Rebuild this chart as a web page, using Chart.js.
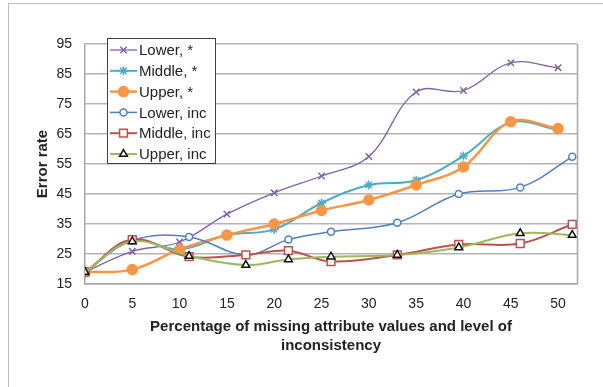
<!DOCTYPE html>
<html>
<head>
<meta charset="utf-8">
<script src="https://cdn.jsdelivr.net/npm/chart.js@4.4.1/dist/chart.umd.min.js"></script>
<style>
  html, body { margin: 0; padding: 0; background: #fff; }
</style>
</head>
<body>
<canvas id="myChart" width="603" height="387"></canvas>
<script>
// data
var xStar = [0, 5, 10, 15, 20, 25, 30, 35, 40, 45, 50];
var lowerStar = [19, 25.9, 29, 38.3, 45.4, 51, 57.5, 79, 79.5, 88.7, 87.1];
var middleStar = [19, 29.5, 26.5, 31.3, 33.2, 42, 48, 49.6, 57.7, 68.8, 66.4];
var upperStar = [19, 19.8, 26.5, 31.3, 35, 39.5, 43, 48, 54, 69.1, 66.8];

var xInc = [0, 5, 11, 17, 21.5, 26, 33, 39.5, 46, 51.5];
var lowerInc = [19, 29.5, 30.7, 24.7, 29.8, 32.4, 35.4, 45, 47.2, 57.4];
var middleInc = [19, 29.8, 24.1, 24.7, 26.1, 22.5, 24.7, 28.2, 28.5, 34.9];
var upperInc = [19, 29.2, 24.3, 21.3, 23.2, 24.1, 24.7, 27.2, 31.9, 31.3];

var seriesNames = ['Lower, *', 'Middle, *', 'Upper, *', 'Lower, inc', 'Middle, inc', 'Upper, inc'];
var yTicks = [15, 25, 35, 45, 55, 65, 75, 85, 95];

var textColor = '#222';

function pts(xs, ys) {
    var out = [];
    for (var i = 0; i < xs.length; i++) out.push({ x: xs[i], y: ys[i] });
    return out;
}

function makeSet(i, xs, ys, style) {
    return {
        label: seriesNames[i],
        data: pts(xs, ys),
        borderColor: style.color,
        borderWidth: style.width,
        pointStyle: style.point,
        pointRadius: style.radius,
        pointBorderColor: style.pointBorder || style.color,
        pointBackgroundColor: style.pointFill || style.color,
        pointBorderWidth: style.pointWidth || 1.5,
        tension: 0.38,
        fill: false,
        order: 5 - i
    };
}

var styles = [
    { color: '#7f63a8', width: 1.3, point: 'crossRot', radius: 4.5 },
    { color: '#4bacc6', width: 2, point: 'star', radius: 4.5 },
    { color: '#f79646', width: 2.5, point: 'circle', radius: 5 },
    { color: '#4f81bd', width: 1.5, point: 'circle', radius: 3.5, pointFill: '#fff' },
    { color: '#c0504d', width: 2, point: 'rect', radius: 5.5, pointFill: '#fff' },
    { color: '#9bbb59', width: 2, point: 'triangle', radius: 4.5, pointFill: '#fff', pointBorder: '#111' }
];

// frame round the whole picture and right edge of the plot area
var framePlugin = {
    id: 'frames',
    beforeDraw: function(chart) {
        var c = chart.ctx;
        c.save();
        c.strokeStyle = '#bdbdbd';
        c.lineWidth = 1;
        c.strokeRect(8.5, 3.5, 800, 600);
        c.restore();
    },
    afterDatasetsDraw: function(chart) {
        var a = chart.chartArea;
        var c = chart.ctx;
        c.save();
        c.strokeStyle = '#a6a6a6';
        c.lineWidth = 1.5;
        c.beginPath();
        c.moveTo(Math.round(a.right) + 0.5, a.top);
        c.lineTo(Math.round(a.right) + 0.5, a.bottom);
        c.stroke();
        c.restore();
    }
};

// legend box in the upper left of the plot, line + marker + text
var legendPlugin = {
    id: 'boxLegend',
    afterDraw: function(chart) {
        var c = chart.ctx;
        var bx = 107.5, by = 38.5, bw = 108, bh = 125;
        c.save();
        c.fillStyle = '#fff';
        c.fillRect(bx, by, bw, bh);
        c.strokeStyle = '#404040';
        c.lineWidth = 1;
        c.strokeRect(bx, by, bw, bh);
        c.font = '15px "Liberation Sans", Arial, sans-serif';
        c.textBaseline = 'middle';
        for (var i = 0; i < seriesNames.length; i++) {
            var s = styles[i];
            var y = 50 + i * 20.8;
            c.strokeStyle = s.color;
            c.lineWidth = s.width;
            c.beginPath();
            c.moveTo(110, y);
            c.lineTo(137, y);
            c.stroke();
            c.strokeStyle = s.pointBorder || s.color;
            c.fillStyle = s.pointFill || s.color;
            c.lineWidth = s.pointWidth || 1.5;
            Chart.helpers.drawPoint(c, { pointStyle: s.point, radius: s.radius, rotation: 0, borderWidth: 1.5 }, 123.5, y);
            c.fillStyle = textColor;
            c.fillText(seriesNames[i], 139, y + 1);
        }
        c.restore();
    }
};

var ctx = document.getElementById('myChart').getContext('2d');
var chart = new Chart(ctx, {
    type: 'line',
    data: {
        datasets: [
            makeSet(0, xStar, lowerStar, styles[0]),
            makeSet(1, xStar, middleStar, styles[1]),
            makeSet(2, xStar, upperStar, styles[2]),
            makeSet(3, xInc, lowerInc, styles[3]),
            makeSet(4, xInc, middleInc, styles[4]),
            makeSet(5, xInc, upperInc, styles[5])
        ]
    },
    options: {
        responsive: false,
        animation: false,
        devicePixelRatio: 1,
        layout: { padding: { left: 0, top: 44, right: 26, bottom: 0 } },
        plugins: {
            legend: { display: false },
            tooltip: { enabled: false }
        },
        scales: {
            x: {
                type: 'linear',
                min: 0,
                max: 52,
                afterFit: function(scale) { scale.height = 103; },
                grid: { display: false, drawTicks: false },
                border: { display: true, color: '#a6a6a6', width: 1.5 },
                ticks: {
                    stepSize: 5,
                    includeBounds: false,
                    padding: 12,
                    maxRotation: 0,
                    color: textColor,
                    font: { family: '"Liberation Sans", Arial, sans-serif', size: 14 }
                },
                title: {
                    display: true,
                    text: ['Percentage of missing attribute values and level of', 'inconsistency'],
                    color: textColor,
                    font: { family: '"Liberation Sans", Arial, sans-serif', size: 15, weight: 'bold', lineHeight: '19px' },
                    padding: { top: 0, bottom: 31.5 }
                }
            },
            y: {
                min: 15,
                max: 95,
                afterFit: function(scale) { scale.width = 85; },
                afterBuildTicks: function(scale) {
                    scale.ticks = yTicks.map(function(v) { return { value: v }; });
                },
                grid: { color: '#b3b3b3', lineWidth: 1.5, drawTicks: false },
                border: { display: true, color: '#a6a6a6', width: 1.5 },
                ticks: {
                    padding: 13,
                    color: textColor,
                    font: { family: '"Liberation Sans", Arial, sans-serif', size: 14 }
                },
                title: {
                    display: true,
                    text: 'Error rate',
                    color: textColor,
                    font: { family: '"Liberation Sans", Arial, sans-serif', size: 15, weight: 'bold', lineHeight: '17px' },
                    padding: { top: 34, bottom: 0 }
                }
            }
        }
    },
    plugins: [framePlugin, legendPlugin]
});
</script>
</body>
</html>
